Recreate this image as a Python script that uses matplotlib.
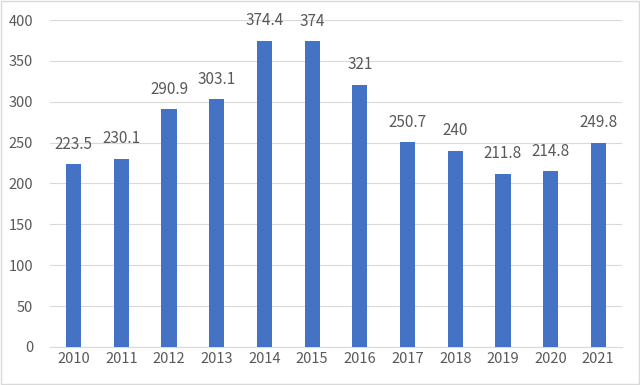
import matplotlib.pyplot as plt
import matplotlib.patches as mpatches

plt.rcParams['font.family'] = ['Noto Sans CJK SC', 'DejaVu Sans']

years = ['2010', '2011', '2012', '2013', '2014', '2015',
         '2016', '2017', '2018', '2019', '2020', '2021']
values = [223.5, 230.1, 290.9, 303.1, 374.4, 374,
          321, 250.7, 240, 211.8, 214.8, 249.8]
labels = ['223.5', '230.1', '290.9', '303.1', '374.4', '374',
          '321', '250.7', '240', '211.8', '214.8', '249.8']

fig = plt.figure(figsize=(6.4, 3.85), dpi=100)
ax = fig.add_axes([0.078, 0.099, 0.894, 0.849])

x = range(len(years))
bars = ax.bar(x, values, width=0.32, color='#4472C4', zorder=3)

for b, lab in zip(bars, labels):
    ax.text(b.get_x() + b.get_width() / 2, b.get_height() + 14, lab,
            ha='center', va='bottom', fontsize=11, color='#595959')

ax.set_xlim(-0.5, len(years) - 0.5)
ax.set_ylim(0, 400)
ax.set_yticks(range(0, 401, 50))
ax.set_xticks(list(x))
ax.set_xticklabels(years)
ax.tick_params(axis='both', length=0, labelsize=10.5, colors='#595959')
ax.tick_params(axis='y', pad=12)
ax.tick_params(axis='x', pad=4)
ax.yaxis.grid(True, color='#D9D9D9', linewidth=0.8, zorder=0)
for s in ['top', 'right', 'left']:
    ax.spines[s].set_visible(False)
ax.spines['bottom'].set_color('#D9D9D9')
ax.spines['bottom'].set_linewidth(0.8)

# thin border round the chart area
fig.patches.append(mpatches.Rectangle((0.002, 0.003), 0.996, 0.994,
                                      transform=fig.transFigure, fill=False,
                                      edgecolor='#D9D9D9', linewidth=1))

fig.savefig('out.png', dpi=100)
